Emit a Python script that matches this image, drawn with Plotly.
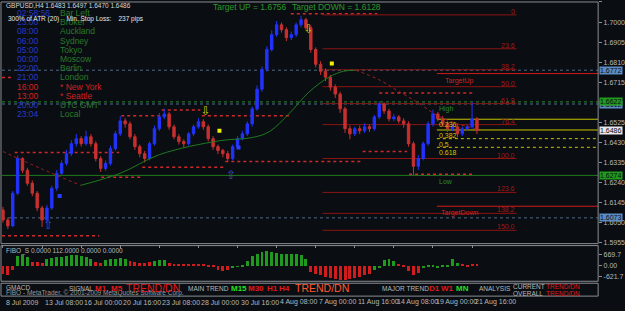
import plotly.graph_objects as go

W, H = 625, 311

# ---------------- data ----------------
closes = [1.6063, 1.6035, 1.6190, 1.6354, 1.6298, 1.6237, 1.6190, 1.6120, 1.6063, 1.6120,
          1.6213, 1.6284, 1.6331, 1.6377, 1.6424, 1.6448, 1.6424, 1.6457, 1.6424, 1.6354,
          1.6307, 1.6331, 1.6401, 1.6471, 1.6532, 1.6518, 1.6457, 1.6410, 1.6377, 1.6354,
          1.6424, 1.6495, 1.6551, 1.6565, 1.6504, 1.6457, 1.6434, 1.6424, 1.6471, 1.6504,
          1.6528, 1.6504, 1.6448, 1.6410, 1.6392, 1.6377, 1.6354, 1.6410, 1.6448, 1.6471,
          1.6518, 1.6589, 1.6682, 1.6776, 1.6870, 1.6940, 1.6987, 1.6964, 1.6926, 1.6940,
          1.6987, 1.7011, 1.6973, 1.6870, 1.6800, 1.6767, 1.6739, 1.6692, 1.6659, 1.6589,
          1.6495, 1.6471, 1.6495, 1.6485, 1.6504, 1.6495, 1.6551, 1.6612, 1.6579, 1.6542,
          1.6551, 1.6532, 1.6518, 1.6424, 1.6317, 1.6354, 1.6424, 1.6518, 1.6565, 1.6542,
          1.6518, 1.6495, 1.6504, 1.6471, 1.6495, 1.6504, 1.6542, 1.6486]
highs = [1.6125, 1.6075, 1.6200, 1.6368, 1.6360, 1.6310, 1.6250, 1.6200, 1.6130, 1.6135,
         1.6225, 1.6300, 1.6345, 1.6395, 1.6440, 1.6470, 1.6460, 1.6485, 1.6470, 1.6435,
         1.6365, 1.6345, 1.6415, 1.6485, 1.6555, 1.6545, 1.6530, 1.6470, 1.6420, 1.6390,
         1.6435, 1.6510, 1.6570, 1.6590, 1.6575, 1.6515, 1.6470, 1.6445, 1.6480, 1.6515,
         1.6545, 1.6540, 1.6515, 1.6460, 1.6420, 1.6400, 1.6390, 1.6420, 1.6460, 1.6485,
         1.6530, 1.6600, 1.6700, 1.6790, 1.6885, 1.6960, 1.7005, 1.6998, 1.6975, 1.6955,
         1.6998, 1.7030, 1.7020, 1.6985, 1.6880, 1.6815, 1.6780, 1.6750, 1.6705, 1.6670,
         1.6600, 1.6510, 1.6505, 1.6510, 1.6520, 1.6515, 1.6560, 1.6625, 1.6620, 1.6590,
         1.6565, 1.6560, 1.6545, 1.6530, 1.6435, 1.6370, 1.6435, 1.6530, 1.6585, 1.6575,
         1.6555, 1.6530, 1.6515, 1.6515, 1.6505, 1.6515, 1.6620, 1.6550]
lows = [1.6050, 1.6020, 1.6030, 1.6180, 1.6285, 1.6225, 1.6175, 1.6105, 1.6030, 1.6055,
        1.6110, 1.6200, 1.6270, 1.6320, 1.6365, 1.6410, 1.6410, 1.6415, 1.6410, 1.6340,
        1.6290, 1.6295, 1.6320, 1.6390, 1.6460, 1.6500, 1.6445, 1.6395, 1.6360, 1.6335,
        1.6345, 1.6415, 1.6485, 1.6540, 1.6490, 1.6445, 1.6420, 1.6405, 1.6415, 1.6460,
        1.6495, 1.6490, 1.6435, 1.6395, 1.6375, 1.6360, 1.6340, 1.6345, 1.6400, 1.6440,
        1.6460, 1.6505, 1.6580, 1.6670, 1.6765, 1.6860, 1.6930, 1.6950, 1.6910, 1.6915,
        1.6930, 1.6975, 1.6960, 1.6855, 1.6785, 1.6750, 1.6720, 1.6675, 1.6640, 1.6570,
        1.6475, 1.6445, 1.6460, 1.6470, 1.6475, 1.6480, 1.6485, 1.6540, 1.6565, 1.6530,
        1.6530, 1.6520, 1.6500, 1.6410, 1.6274, 1.6300, 1.6345, 1.6415, 1.6505, 1.6530,
        1.6505, 1.6480, 1.6485, 1.6455, 1.6460, 1.6485, 1.6495, 1.6470]
first_open = 1.6110
opens = [first_open] + closes[:-1]
bars = list(range(len(closes)))

x_tick_idx = [0, 8, 16, 24, 32, 40, 48, 56, 64, 72, 80, 88, 96]
x_tick_text = ["8 Jul 2009", "13 Jul 08:00", "16 Jul 00:00", "20 Jul 16:00", "23 Jul 08:00",
               "28 Jul 00:00", "30 Jul 16:00", "4 Aug 08:00", "7 Aug 00:00", "11 Aug 16:00",
               "14 Aug 08:00", "19 Aug 00:00", "21 Aug 16:00"]
price_ticks = [1.7095, 1.7000, 1.6905, 1.6810, 1.6715, 1.6525, 1.6430, 1.6335,
               1.6240, 1.6145, 1.6050, 1.5955]

ma_idx = [0, 7.7, 15.9, 24, 32.1, 44.3, 51, 54.5, 58.5, 62.6, 66.7, 69.7, 72.2,
          76.8, 80.9, 85, 89, 93.1, 96.7]
ma_val = [1.6387, 1.6307, 1.6227, 1.6284, 1.6373, 1.6438, 1.6453, 1.6481, 1.6565,
          1.6668, 1.6739, 1.6767, 1.6772, 1.6729, 1.6673, 1.6617, 1.6556, 1.6518, 1.6495]

hist_vals = [-450, -500, -200, 600, 650, 550, 250, 250, 200, 450,
             500, 550, 550, 600, 650, 650, 600, 550, 400, 250,
             200, 350, 400, 450, 500, 450, 300, 250, 200, 200,
             250, 300, 350, 350, 200, 150, 150, 150, 150, 150,
             130, 120, 80, 60, -200, -300, -250, -60, -40, 50,
             300, 600, 750, 850, 900, 850, 800, 750, 750, 700,
             700, 650, 450, -350, -450, -550, -650, -700, -750, -820,
             -800, -760, -700, -650, -550, -450, -250, -100, 350, 400,
             300, 150, 100, -300, -500, -400, -100, 40, 40, -80,
             50, 60, 400, 200, 150, 100, 150, 120]
hist_trend = [-1, -1, -1, 1, 1, 1, -1, -1, -1, 1,
              1, 1, 1, 1, 1, 1, 1, 1, 1, -1,
              -1, 1, 1, 1, 1, 1, -1, -1, -1, -1,
              -1, 1, 1, 1, -1, -1, -1, -1, -1, -1,
              -1, -1, -1, -1, -1, -1, -1, 1, 1, 1,
              1, 1, 1, 1, 1, 1, 1, 1, 1, 1,
              1, 1, 1, -1, -1, -1, -1, -1, -1, -1,
              -1, -1, -1, -1, -1, -1, 1, 1, 1, 1,
              1, -1, -1, -1, -1, -1, 1, 1, 1, 1,
              1, 1, 1, 1, -1, -1, -1, -1]

fib_high, fib_low = 1.7034, 1.6354
fib_pcts = [0, 23.6, 38.2, 50.0, 61.8, 76.4, 100.0, 123.6, 138.2, 150.0]
fib_from, fib_to = 65.4, 105.1

rt_high, rt_low = 1.6622, 1.6274
rt_ratios = [0.236, 0.382, 0.5, 0.618]
rt_from = 88.8

target_up, target_down = 1.6756, 1.6128

sr_start = [-0.2, 2.4, 20.1, 24.2, 32.5, 40.7, 28.5, 45.5, 58.9, 73.6, 77.0, 83.1, -0.2]
sr_end = [19.7, 23.8, 28.5, 33.3, 40.4, 58.9, 45.5, 73.2, 76.6, 82.7, 96.5, 96.5, 2.2]
sr_price = [1.5988, 1.6382, 1.6265, 1.6556, 1.6584, 1.6556, 1.6312, 1.6340, 1.7039,
            1.6387, 1.6664, 1.6279, 1.6738]

grey_levels = [1.6772, 1.6612, 1.6073]

arrow_dn_idx, arrow_dn_val = [41.5, 62.6], [1.6574, 1.6964]
arrow_up_idx, arrow_up_val = [9.35, 46.7], [1.6035, 1.6270]
dot_y_idx, dot_y_val = [67.3, 44.3], [1.6804, 1.6485]
dot_b_idx, dot_b_val = [11.6, 48.2], [1.6176, 1.6406]

box_prices = [1.6772, 1.6612, 1.6622, 1.6486, 1.6274, 1.6073]
box_bg = ["#5b8cc4", "#5b8cc4", "#1f9a1f", "#e8e8e8", "#1f9a1f", "#5b8cc4"]
box_fg = ["#0a0e12", "#0a0e12", "#0a0e12", "#0a0e12", "#0a0e12", "#0a0e12"]

clock_times = ["02:58:56", "23:00", "08:00", "06:00", "05:00", "00:00", "22:00",
               "21:00", "16:00", "13:00", "20:00", "23:04"]
clock_names = ["Bar Left", "Broker", "Auckland", "Sydney", "Tokyo", "Moscow", "Berlin",
               "London", "* New York", "* Seattle", "UTC GMT", "Local"]
clock_alert = [0, 0, 0, 0, 0, 0, 0, 0, 1, 1, 0, 0]

# ---------------- style ----------------
BG = "#0a0e12"
GREY = "#b8b8b8"
FRAME = "#8a8e94"
FONT = "Liberation Sans"
XR = [-0.2, 121.8]

fig = go.Figure()

fig.add_trace(go.Candlestick(
    x=bars, open=opens, high=highs, low=lows, close=closes,
    increasing=dict(line=dict(color="#2233ff", width=1), fillcolor="#2233ff"),
    decreasing=dict(line=dict(color="#c83030", width=1), fillcolor="#c83030"),
    whiskerwidth=0, xaxis="x", yaxis="y", hoverinfo="skip", showlegend=False))

# moving average coloured by slope
runs = []
cur = [0]
for k in range(1, len(ma_idx)):
    up = ma_val[k] >= ma_val[k - 1]
    if len(cur) > 1:
        prev_up = ma_val[cur[-1]] >= ma_val[cur[-2]]
        if up != prev_up:
            runs.append(cur)
            cur = [k - 1]
    cur.append(k)
runs.append(cur)
for r in runs:
    up = ma_val[r[-1]] >= ma_val[r[0]]
    fig.add_trace(go.Scatter(
        x=[ma_idx[k] for k in r], y=[ma_val[k] for k in r], mode="lines",
        line=dict(color="#1f7a1f" if up else "#a42020", width=1,
                  dash="solid" if up else "dot", shape="spline"),
        xaxis="x", yaxis="y", hoverinfo="skip", showlegend=False))

# signal marks
fig.add_trace(go.Scatter(x=arrow_dn_idx, y=arrow_dn_val, mode="text", text=["⇩"] * 2,
                         textfont=dict(color="#d8c800", size=12, family="DejaVu Sans"),
                         xaxis="x", yaxis="y", hoverinfo="skip", showlegend=False))
fig.add_trace(go.Scatter(x=arrow_up_idx, y=arrow_up_val, mode="text", text=["⇧"] * 2,
                         textfont=dict(color="#3050e8", size=12, family="DejaVu Sans"),
                         xaxis="x", yaxis="y", hoverinfo="skip", showlegend=False))
fig.add_trace(go.Scatter(x=dot_y_idx, y=dot_y_val, mode="markers",
                         marker=dict(symbol="square", size=4, color="#f0f000"),
                         xaxis="x", yaxis="y", hoverinfo="skip", showlegend=False))
fig.add_trace(go.Scatter(x=dot_b_idx, y=dot_b_val, mode="markers",
                         marker=dict(symbol="square", size=4, color="#2a3cff"),
                         xaxis="x", yaxis="y", hoverinfo="skip", showlegend=False))

# histogram
fig.add_trace(go.Bar(x=bars, y=hist_vals,
                     marker=dict(color=["#1f9a1f" if t > 0 else "#d01c1c" for t in hist_trend],
                                 line=dict(width=0)),
                     width=0.6, xaxis="x", yaxis="y2", hoverinfo="skip", showlegend=False))

shapes = []
ann = []


def pa(x, y, text, color, size=8, xanchor="left", yanchor="middle", family=FONT, **kw):
    ann.append(dict(xref="paper", yref="paper", x=x / W, y=1 - y / H, text=text,
                    showarrow=False, font=dict(color=color, size=size, family=family),
                    xanchor=xanchor, yanchor=yanchor, **kw))


def hline(x0, x1, y, color, dash="solid", width=1, xref="x"):
    shapes.append(dict(type="line", xref=xref, yref="y", x0=x0, x1=x1, y0=y, y1=y,
                       line=dict(color=color, width=width, dash=dash), layer="below"))


# full-width levels
for lv in grey_levels:
    hline(0, 1, lv, "#4d6a8a", "dot", xref="x domain")
hline(0, 1, rt_high, "#2a8a2a", "dot", xref="x domain")
hline(0, 1, rt_low, "#1f7a1f", "solid", xref="x domain")

# support / resistance segments
for s, e, p in zip(sr_start, sr_end, sr_price):
    hline(s, e, p, "#d02828", "dot", width=1.5)

# fibonacci expansion
for pct in fib_pcts:
    lv = fib_high - pct / 100 * (fib_high - fib_low)
    hline(fib_from, fib_to, lv, "#8a1414")
    ann.append(dict(xref="x", yref="y", x=fib_to, y=lv, text=("%.1f" % pct) if pct else "0",
                    showarrow=False, xanchor="right", yanchor="bottom", yshift=-2,
                    font=dict(color="#a01818", size=7, family=FONT)))

# targets
hline(rt_from, XR[1], target_up, "#d01c1c")
hline(rt_from, XR[1], target_down, "#d01c1c")
ann.append(dict(xref="x", yref="y", x=rt_from + 1.3, y=target_up, text="TargetUp",
                showarrow=False, xanchor="left", yanchor="top", yshift=-1,
                font=dict(color="#d02020", size=7, family=FONT)))
ann.append(dict(xref="x", yref="y", x=rt_from + 0.5, y=target_down, text="TargetDown",
                showarrow=False, xanchor="left", yanchor="top", yshift=-1,
                font=dict(color="#d02020", size=7, family=FONT)))
ann.append(dict(xref="x", yref="y", x=rt_from, y=rt_high, text="High",
                showarrow=False, xanchor="left", yanchor="top", yshift=-1,
                font=dict(color="#2a8a2a", size=7, family=FONT)))
ann.append(dict(xref="x", yref="y", x=rt_from, y=rt_low, text="Low",
                showarrow=False, xanchor="left", yanchor="top", yshift=-1,
                font=dict(color="#2a8a2a", size=7, family=FONT)))

# retracement (yellow)
for k, r in enumerate(rt_ratios):
    lv = rt_high - r * (rt_high - rt_low)
    hline(rt_from, XR[1], lv, "#c8c400", "solid" if k < 2 else "dot")
    ann.append(dict(xref="x", yref="y", x=rt_from, y=lv, text=str(r),
                    showarrow=False, xanchor="left", yanchor="top", yshift=0,
                    font=dict(color="#d0c000", size=7, family=FONT)))

# right-axis price boxes
for p, bg, fg in zip(box_prices, box_bg, box_fg):
    ann.append(dict(xref="paper", yref="y", x=603 / W, y=p, text="%.4f" % p,
                    showarrow=False, xanchor="left", yanchor="middle", bgcolor=bg,
                    borderpad=0, font=dict(color=fg, size=7, family=FONT)))

# panel frames
for top, bot in [(2, 246), (248, 284), (286, 299)]:
    shapes.append(dict(type="rect", xref="paper", yref="paper", x0=1 / W, x1=602 / W,
                       y0=1 - bot / H, y1=1 - top / H, line=dict(color=FRAME, width=1)))

# x labels
for i, t in zip(x_tick_idx, x_tick_text):
    ann.append(dict(xref="x", yref="paper", x=i, y=1 - 305 / H, text=t, showarrow=False,
                    xanchor="left", yanchor="middle", xshift=1,
                    font=dict(color=GREY, size=7, family=FONT)))

# header texts
pa(4, 6, "GBPUSD,H4 1.6483 1.6497 1.6470 1.6486", "#d8d8d8", 6.5)
pa(212, 7, "Target UP = 1.6756", "#2a9a2a", 8.5)
pa(292, 7, "Target DOWN = 1.6128", "#2a9a2a", 8.5)

for k, (tm, nm, al) in enumerate(zip(clock_times, clock_names, clock_alert)):
    y = 13 + k * 9.3
    pa(15, y, tm, "#d42020" if al else "#2838c8", 8.5)
    pa(58, y, nm, "#d42020" if al else "#2a7a2a", 8.5)
pa(6, 19, "300% of ATR (20)    Min. Stop Loss:    237 pips", "#e8e8e8", 6.5)

# indicator panel
pa(4, 253, "FIBO_S 0.0000 112.0000 0.0000 0.0000", GREY, 6.5)

# bottom text panel
pa(4, 290, "GMACD", GREY, 6.5)
pa(4, 296, "FIBO - MetaTrader, © 2001-2009 MetaQuotes Software Corp.", "#9a9a9a", 6.5)
pa(67, 291, "SIGNAL", GREY, 6.5)
pa(94, 291, "<b>M1</b>", "#e01818", 8)
pa(110, 291, "<b>M5</b>", "#e01818", 8)
pa(125, 291, "TREND/DN", "#e01818", 10.5)
pa(187, 291, "MAIN TREND", GREY, 6.5)
pa(230, 291, "<b>M15</b>", "#20e020", 8)
pa(248, 291, "<b>M30</b>", "#e01818", 8)
pa(267, 291, "<b>H1</b>", "#e01818", 8)
pa(279, 291, "<b>H4</b>", "#e01818", 8)
pa(295, 291, "TREND/DN", "#ff5a30", 10.5)
pa(382, 291, "MAJOR TREND", GREY, 6.5)
pa(430, 291, "<b>D1</b>", "#e01818", 8)
pa(442, 291, "<b>W1</b>", "#e01818", 8)
pa(457, 291, "<b>MN</b>", "#20e020", 8)
pa(480, 291, "ANALYSIS", GREY, 6.5)
pa(514, 289, "CURRENT", GREY, 6.5)
pa(514, 296.5, "OVERALL", GREY, 6.5)
pa(548, 289, "TREND/DN", "#e01818", 6.5)
pa(548, 296.5, "TREND/DN", "#e01818", 6.5)

axis_common = dict(showgrid=False, zeroline=False, side="right", anchor="x",
                   ticks="outside", ticklen=3, tickcolor=FRAME,
                   tickfont=dict(color=GREY, size=7, family=FONT), showline=False)

fig.update_layout(
    width=W, height=H, margin=dict(l=0, r=0, t=0, b=0),
    paper_bgcolor=BG, plot_bgcolor=BG, showlegend=False, bargap=0,
    xaxis=dict(domain=[2 / W, 602 / W], range=XR, anchor="y3", showgrid=False,
               zeroline=False, showticklabels=False, ticks="outside", ticklen=3,
               tickcolor=FRAME, tickvals=x_tick_idx, rangeslider=dict(visible=False),
               showline=False),
    yaxis=dict(domain=[1 - 246 / H, 1 - 2 / H], range=[1.5951, 1.7095],
               tickvals=price_ticks, ticktext=["%.4f" % v for v in price_ticks],
               **axis_common),
    yaxis2=dict(domain=[1 - 284 / H, 1 - 248 / H], range=[-915, 1198],
                tickvals=[669.7, 0, -621.7], ticktext=["669.7", "0.00", "-621.7"],
                **axis_common),
    yaxis3=dict(domain=[1 - 299 / H, 1 - 286 / H], range=[-1, 1],
                tickvals=[-0.08, -0.98], ticktext=["-9000000", "9000000"],
                **axis_common),
    shapes=shapes, annotations=ann,
)

fig.write_html("out.html")
